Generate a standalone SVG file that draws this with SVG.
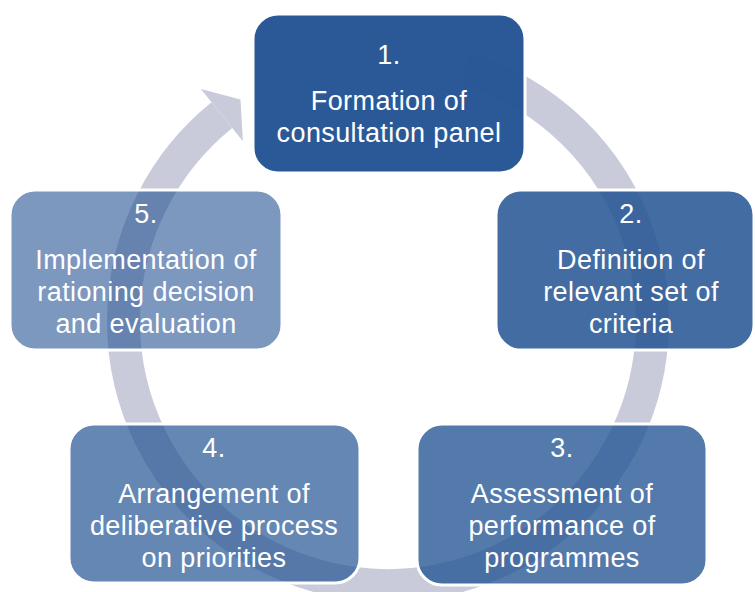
<svg xmlns="http://www.w3.org/2000/svg" width="755" height="592" viewBox="0 0 755 592">
  <style>
    .box { fill: #245494; stroke: #ffffff; stroke-width: 3; }
    .lbl { font-family: "Liberation Sans", Arial, sans-serif; font-size: 27px; letter-spacing: 0.4px; fill: #ffffff; text-anchor: middle; }
    .ring { fill: none; stroke: #c9cbda; stroke-width: 33; }
    .head { fill: #c9cbda; }
  </style>
  <rect width="755" height="592" fill="#ffffff"/>
  <g id="connectors">
    <path class="ring" d="M 465.3 68.1 A 264.5 264.5 0 1 1 221.9 115.2"/>
    <polygon class="head" points="200.9,89.1 240.5,99.5 242.9,141.2"/>
  </g>
  <g id="node1">
    <rect class="box" x="253" y="14" width="272" height="159" rx="25" fill-opacity="0.97"/>
    <text class="lbl" x="389" y="64">1.</text>
    <text class="lbl" x="389" y="110">Formation of</text>
    <text class="lbl" x="389" y="142">consultation panel</text>
  </g>
  <g id="node2">
    <rect class="box" x="496" y="190" width="258" height="160" rx="25" fill-opacity="0.86"/>
    <text class="lbl" x="631" y="223">2.</text>
    <text class="lbl" x="631" y="269">Definition of</text>
    <text class="lbl" x="631" y="301">relevant set of</text>
    <text class="lbl" x="631" y="333">criteria</text>
  </g>
  <g id="node3">
    <rect class="box" x="417" y="424" width="290" height="161" rx="25" fill-opacity="0.78"/>
    <text class="lbl" x="562" y="457">3.</text>
    <text class="lbl" x="562" y="503">Assessment of</text>
    <text class="lbl" x="562" y="535">performance of</text>
    <text class="lbl" x="562" y="567">programmes</text>
  </g>
  <g id="node4">
    <rect class="box" x="69" y="424" width="291" height="159" rx="25" fill-opacity="0.7"/>
    <text class="lbl" x="214" y="457">4.</text>
    <text class="lbl" x="214" y="503">Arrangement of</text>
    <text class="lbl" x="214" y="535">deliberative process</text>
    <text class="lbl" x="214" y="567">on priorities</text>
  </g>
  <g id="node5">
    <rect class="box" x="10" y="190" width="272" height="160" rx="25" fill-opacity="0.6"/>
    <text class="lbl" x="146" y="223">5.</text>
    <text class="lbl" x="146" y="269">Implementation of</text>
    <text class="lbl" x="146" y="301">rationing decision</text>
    <text class="lbl" x="146" y="333">and evaluation</text>
  </g>
</svg>
